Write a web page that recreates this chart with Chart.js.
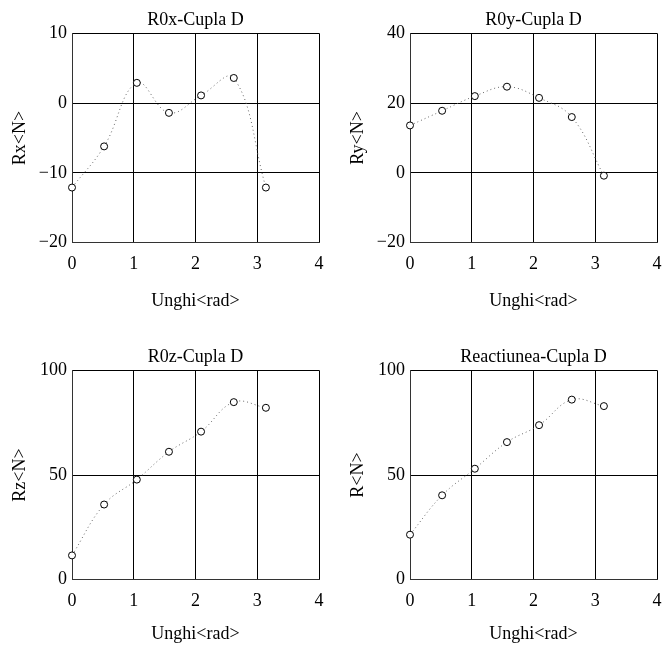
<!DOCTYPE html>
<html>
<head>
<meta charset="utf-8">
<script src="https://cdn.jsdelivr.net/npm/chart.js@4"></script>
<style>
  body { margin: 0; background: #fff; }
  #wrap { position: relative; width: 672px; height: 653px; }
  canvas { position: absolute; }
</style>
</head>
<body>
<div id="wrap">
  <canvas id="c1" width="334" height="316" style="left:0;top:0"></canvas>
  <canvas id="c2" width="334" height="316" style="left:338px;top:0"></canvas>
  <canvas id="c3" width="334" height="316" style="left:0;top:337px"></canvas>
  <canvas id="c4" width="334" height="316" style="left:338px;top:337px"></canvas>
</div>
<script>
// unghiuri (rad) si reactiuni (N)
const unghi = [0, 0.52, 1.05, 1.57, 2.09, 2.62, 3.14];
const rx = [-12.1, -6.2, 2.9, -1.4, 1.1, 3.6, -12.1];
const ry = [13.6, 17.8, 22.0, 24.7, 21.5, 16.0, -0.8];
const rz = [11.6, 35.9, 47.8, 61.1, 70.7, 84.8, 82.1];
const r = [21.5, 40.3, 53.0, 65.7, 73.8, 86.0, 82.9];

const xTicks = [0, 1, 2, 3, 4];

Chart.defaults.font.family = 'Liberation Serif';
Chart.defaults.font.size = 18;
Chart.defaults.color = '#000';

function makeChart(id, title, yTitle, values, yMin, yMax, yStep, xTitlePad) {
    const pts = unghi.map((u, i) => ({x: u, y: values[i]}));
    return new Chart(document.getElementById(id), {
        type: 'scatter',
        data: {
            datasets: [{
                data: pts,
                showLine: true,
                clip: false,
                tension: 0.4,
                borderColor: '#666',
                borderWidth: 1,
                borderDash: [1, 3],
                pointRadius: 3.5,
                pointBorderColor: '#000',
                pointBackgroundColor: '#fff',
                pointBorderWidth: 1
            }]
        },
        options: {
            responsive: false,
            animation: false,
            devicePixelRatio: 1,
            layout: { padding: {top: 0, right: 15, bottom: 0, left: 0} },
            plugins: {
                legend: { display: false },
                tooltip: { enabled: false },
                title: {
                    display: true,
                    text: title,
                    fullSize: false,
                    color: '#000',
                    font: { size: 18, weight: 'normal' },
                    padding: { top: 9.2, bottom: 2.5 }
                }
            },
            scales: {
                x: {
                    type: 'linear',
                    position: 'bottom',
                    min: xTicks[0],
                    max: xTicks[xTicks.length - 1],
                    afterBuildTicks: s => { s.ticks = xTicks.map(v => ({value: v})); },
                    afterFit: s => { s.height = 73.3; },
                    grid: { color: '#000', lineWidth: 1, drawTicks: false },
                    border: { color: '#333' },
                    ticks: { padding: 10.5, color: '#000' },
                    title: {
                        display: true,
                        text: 'Unghi<rad>',
                        color: '#000',
                        padding: { top: 0, bottom: xTitlePad }
                    }
                },
                y: {
                    min: yMin,
                    max: yMax,
                    afterFit: s => { s.width = 72; },
                    grid: { color: '#000', lineWidth: 1, drawTicks: false },
                    border: { color: '#333' },
                    ticks: {
                        stepSize: yStep,
                        padding: 5,
                        color: '#000',
                        callback: v => String(v).replace('-', '\u2212')
                    },
                    title: {
                        display: true,
                        text: yTitle,
                        color: '#000',
                        padding: { top: 9.7, bottom: 0 }
                    }
                }
            }
        }
    });
}

makeChart('c1', 'R0x-Cupla D', 'Rx<N>', rx, -20, 10, 10, 3.9);
makeChart('c2', 'R0y-Cupla D', 'Ry<N>', ry, -20, 40, 20, 3.9);
makeChart('c3', 'R0z-Cupla D', 'Rz<N>', rz, 0, 100, 50, 7.9);
makeChart('c4', 'Reactiunea-Cupla D', 'R<N>', r, 0, 100, 50, 7.9);
</script>
</body>
</html>
